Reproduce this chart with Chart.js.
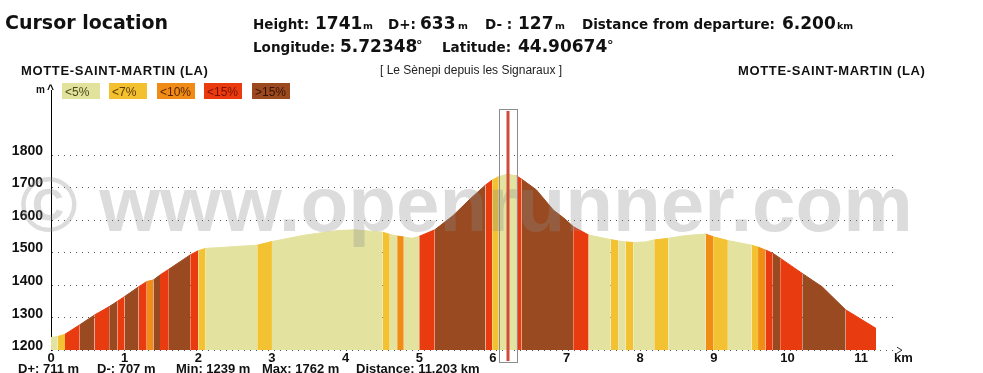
<!DOCTYPE html>
<html>
<head>
<meta charset="utf-8">
<script src="https://cdn.jsdelivr.net/npm/chart.js@4.4.1/dist/chart.umd.min.js"></script>
<style>
    body { margin: 0; background: #fff; }
    #page { position: relative; width: 983px; height: 373px; overflow: hidden; }
    #chartBox { position: absolute; left: 0; top: 0; width: 983px; height: 373px; }
    .t { position: absolute; white-space: nowrap; line-height: 1; color: #111; }
    .v { font-family: "DejaVu Sans", sans-serif; font-weight: bold; }
    .a { font-family: "Liberation Sans", Arial, sans-serif; }
    .leg { position: absolute; top: 83px; width: 38px; height: 16px; box-sizing: border-box;
           padding: 2px 0 0 3px; font: 12px "Liberation Sans", Arial, sans-serif; line-height: 14px; }
</style>
</head>
<body>
<div id="page">
    <div id="chartBox"><canvas id="profil"></canvas></div>

    <!-- cursor info -->
    <div class="t v" style="left:5px;top:13px;font-size:19px">Cursor location</div>
    <div class="t v" style="left:253px;top:18px;font-size:13.5px">Height:</div>
    <div class="t v" style="left:315px;top:15px;font-size:17px">1741</div>
    <div class="t v" style="left:363px;top:21px;font-size:9.5px">m</div>
    <div class="t v" style="left:388px;top:18px;font-size:13.5px">D+:</div>
    <div class="t v" style="left:420px;top:15px;font-size:17px">633</div>
    <div class="t v" style="left:458px;top:21px;font-size:9.5px">m</div>
    <div class="t v" style="left:485px;top:18px;font-size:13.5px">D- :</div>
    <div class="t v" style="left:518px;top:15px;font-size:17px">127</div>
    <div class="t v" style="left:555px;top:21px;font-size:9.5px">m</div>
    <div class="t v" style="left:582px;top:18px;font-size:13.5px">Distance from departure:</div>
    <div class="t v" style="left:782px;top:15px;font-size:17px">6.200</div>
    <div class="t v" style="left:837px;top:21px;font-size:9.5px">km</div>

    <div class="t v" style="left:253px;top:41px;font-size:13.5px">Longitude:</div>
    <div class="t v" style="left:340px;top:38px;font-size:17px">5.72348</div>
    <div class="t v" style="left:416px;top:38px;font-size:13px">°</div>
    <div class="t v" style="left:442px;top:41px;font-size:13.5px">Latitude:</div>
    <div class="t v" style="left:518px;top:38px;font-size:17px">44.90674</div>
    <div class="t v" style="left:607px;top:38px;font-size:13px">°</div>

    <!-- profile header -->
    <div class="t a" style="left:21px;top:64px;font-size:13px;font-weight:bold;letter-spacing:0.65px">MOTTE-SAINT-MARTIN (LA)</div>
    <div class="t a" style="left:380px;top:64px;font-size:12px;color:#222">[ Le Sènepi depuis les Signaraux ]</div>
    <div class="t a" style="left:738px;top:64px;font-size:13px;font-weight:bold;letter-spacing:0.65px">MOTTE-SAINT-MARTIN (LA)</div>

    <div class="t a" style="left:36px;top:85px;font-size:10px;font-weight:bold">m</div>
    <div class="t a" style="left:47px;top:83px;font-size:12px;font-weight:bold">^</div>

    <div class="leg" style="left:62px;background:#e2e29c;color:#4a4a1c">&lt;5%</div>
    <div class="leg" style="left:109px;background:#f3c12f;color:#5a3a05">&lt;7%</div>
    <div class="leg" style="left:157px;background:#f08c15;color:#5a2400">&lt;10%</div>
    <div class="leg" style="left:204px;background:#ea3b10;color:#7a1000">&lt;15%</div>
    <div class="leg" style="left:252px;background:#9b4a20;color:#3a1200">&gt;15%</div>

    <div class="t a" style="left:894px;top:351px;font-size:13px;font-weight:bold">km</div>

    <!-- summary -->
    <div class="t a" style="left:18px;top:362px;font-size:13px;font-weight:bold">D+: 711 m</div>
    <div class="t a" style="left:97px;top:362px;font-size:13px;font-weight:bold">D-: 707 m</div>
    <div class="t a" style="left:176px;top:362px;font-size:13px;font-weight:bold">Min: 1239 m</div>
    <div class="t a" style="left:262px;top:362px;font-size:13px;font-weight:bold">Max: 1762 m</div>
    <div class="t a" style="left:356px;top:362px;font-size:13px;font-weight:bold">Distance: 11.203 km</div>
</div>

<script>
// Profile points (km from departure, altitude in m)
const distKm = [0, 0.09, 0.19, 0.39, 0.59, 0.79, 0.90, 1.00, 1.19, 1.30,
    1.39, 1.48, 1.60, 1.89, 2.00, 2.10, 2.45, 2.80, 3.00, 3.45,
    3.90, 4.13, 4.50, 4.60, 4.70, 4.79, 4.90, 5.00, 5.21, 5.46,
    5.69, 5.90, 5.99, 6.08, 6.20, 6.32, 6.39, 6.59, 6.82, 6.98,
    7.09, 7.30, 7.60, 7.70, 7.80, 7.91, 8.07, 8.19, 8.38, 8.54,
    8.70, 8.89, 8.99, 9.19, 9.51, 9.60, 9.70, 9.80, 9.90, 10.20,
    10.47, 10.79, 11.203];
const elevM = [1239, 1242, 1249, 1278, 1308, 1334, 1350, 1365, 1395, 1411,
    1416, 1431, 1449, 1493, 1506, 1513, 1518, 1523, 1534, 1554,
    1568, 1570, 1563, 1556, 1551, 1548, 1544, 1550, 1570, 1614,
    1665, 1708, 1723, 1734, 1741, 1736, 1726, 1693, 1631, 1603,
    1580, 1554, 1540, 1536, 1533, 1531, 1533, 1539, 1544, 1550,
    1554, 1557, 1549, 1537, 1523, 1517, 1508, 1498, 1483, 1436,
    1395, 1324, 1267];
// slope class of the stretch that starts at each point (index into gradeLabels)
const gradeClass = [0, 1, 3, 4, 3, 4, 3, 4, 3, 2,
    4, 3, 4, 3, 1, 0, 0, 1, 0, 0,
    0, 0, 1, 0, 2, 0, 0, 3, 4, 4,
    4, 3, 1, 0, 0, 3, 4, 4, 4, 4,
    3, 0, 1, 0, 1, 0, 0, 1, 0, 0,
    0, 2, 1, 0, 1, 2, 3, 4, 3, 4,
    4, 3, 3];
const gradeLabels = ['<5%', '<7%', '<10%', '<15%', '>15%'];
const gradeColors = ['#e3e29f', '#f3c232', '#f18c14', '#e93b10', '#9a4a20'];
const kmTicks = [0, 1, 2, 3, 4, 5, 6, 7, 8, 9, 10, 11];
const elevTicks = [1200, 1300, 1400, 1500, 1600, 1700, 1800];
const cursorKm = 6.2;
const watermarkText = '© www.openrunner.com';

const tickFont = { family: 'Liberation Sans', weight: 'bold', size: 14 };

// watermark + cursor + arrow at the end of the km axis
const decorPlugin = {
    id: 'decor',
    afterDatasetsDraw(chart) {
        const { ctx, chartArea } = chart;
        ctx.save();
        ctx.font = 'bold 80px "Liberation Sans"';
        const w = ctx.measureText(watermarkText).width;
        ctx.font = `bold ${80 * 893 / w}px "Liberation Sans"`;
        ctx.fillStyle = 'rgba(140,140,140,0.3)';
        ctx.textBaseline = 'alphabetic';
        ctx.fillText(watermarkText, 20, 231);

        const xPix = Math.round(chart.scales.x.getPixelForValue(cursorKm));
        ctx.strokeStyle = '#8c8c8c';
        ctx.lineWidth = 1;
        ctx.strokeRect(xPix - 8.5, 109.5, 18, 253);
        ctx.fillStyle = '#d24a3a';
        ctx.fillRect(xPix - 1.5, 111, 3, 250);

        ctx.strokeStyle = '#333';
        ctx.beginPath();
        ctx.moveTo(chartArea.right - 1, chartArea.bottom - 3);
        ctx.lineTo(chartArea.right + 4, chartArea.bottom);
        ctx.lineTo(chartArea.right - 1, chartArea.bottom + 3);
        ctx.stroke();
        ctx.restore();
    }
};

document.addEventListener('DOMContentLoaded', function() {
    const ctx = document.getElementById('profil').getContext('2d');
    const colorOf = c => gradeColors[gradeClass[c.p0DataIndex]];

    new Chart(ctx, {
        type: 'line',
        data: {
            datasets: [{
                label: 'Altitude',
                data: distKm.map((d, i) => ({ x: d, y: elevM[i] })),
                fill: 'start',
                borderWidth: 1,
                pointRadius: 0,
                tension: 0,
                segment: {
                    backgroundColor: colorOf,
                    borderColor: colorOf
                }
            }]
        },
        options: {
            responsive: true,
            maintainAspectRatio: false,
            animation: false,
            events: [],
            layout: { padding: { left: 0, top: 90, right: 85, bottom: 0 } },
            plugins: {
                legend: { display: false },
                tooltip: { enabled: false }
            },
            scales: {
                x: {
                    type: 'linear',
                    min: 0,
                    max: 11.5,
                    afterBuildTicks: s => { s.ticks = kmTicks.map(v => ({ value: v })); },
                    afterFit: s => { s.height = 22.8; },
                    grid: { display: false, drawTicks: false },
                    border: { display: false },
                    ticks: { padding: 0, color: '#111', maxRotation: 0, font: { ...tickFont, size: 13 },
                             callback: v => String(v) }
                },
                y: {
                    min: 1200,
                    max: 2000,
                    afterBuildTicks: s => { s.ticks = elevTicks.map(v => ({ value: v })); },
                    afterFit: s => { s.width = 51; },
                    grid: { color: '#555', lineWidth: 1, drawTicks: false },
                    border: { display: true, color: '#000', width: 1, dash: [1, 5] },
                    ticks: { padding: 8, labelOffset: -4, color: '#111', font: tickFont,
                             callback: v => String(v) }
                }
            }
        },
        plugins: [decorPlugin]
    });
});
</script>
</body>
</html>
